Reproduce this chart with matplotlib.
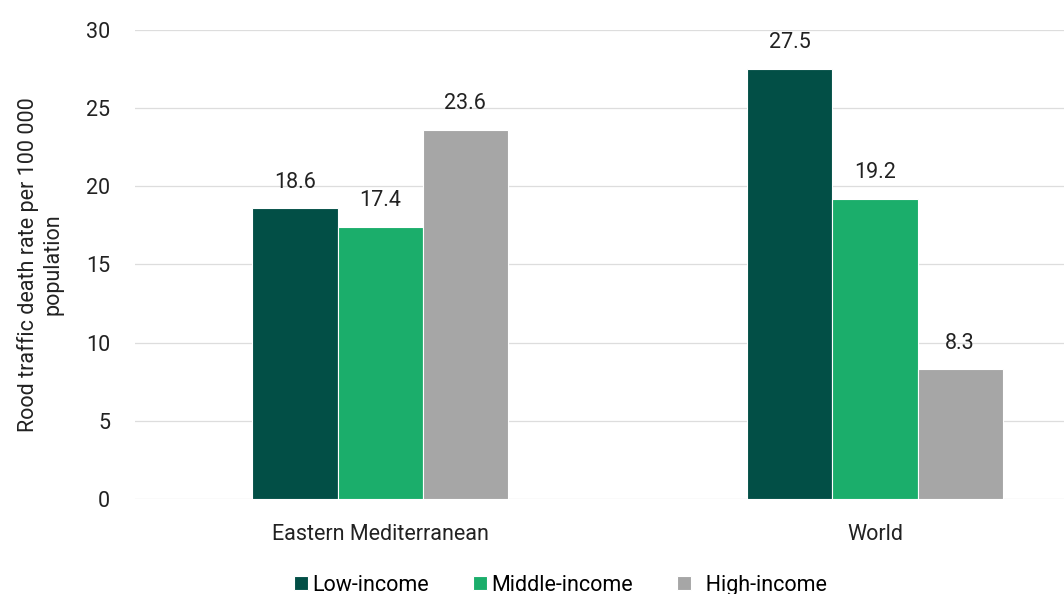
import matplotlib.pyplot as plt
import numpy as np

plt.rcParams['font.family'] = ['Roboto', 'DejaVu Sans']

regions = ["Eastern Mediterranean", "World"]
series = ["Low-income", "Middle-income", "High-income"]
low_income = [18.6, 27.5]
middle_income = [17.4, 19.2]
high_income = [23.6, 8.3]
colors = ["#024f46", "#1bae6b", "#a6a6a6"]

fs = 15.5
fig = plt.figure(figsize=(10.64, 5.94), dpi=100)
ax = fig.add_axes([0.127, 0.16, 0.873, 0.7896])

x = np.arange(len(regions))
w = 0.172
for i, (vals, name) in enumerate(zip([low_income, middle_income, high_income], series)):
    pos = x + (i - 1) * w
    label = name if i < 2 else "  " + name
    bars = ax.bar(pos, vals, w, color=colors[i], label=label,
                  edgecolor="white", linewidth=0.8, zorder=3)
    for b, v in zip(bars, vals):
        ax.text(b.get_x() + b.get_width() / 2, v + 1.0, f"{v:.1f}",
                ha="center", va="bottom", fontsize=fs, color="#222222")

ax.set_xlim(-0.495, 1.382)
ax.set_ylim(0, 30)
ax.set_yticks(range(0, 31, 5))
ax.set_xticks(x)
ax.set_xticklabels(regions)
ax.tick_params(axis="both", length=0, labelsize=fs, colors="#222222")
ax.tick_params(axis="x", pad=18)
ax.tick_params(axis="y", pad=18)
ax.grid(axis="y", color="#dddddd", linewidth=0.9, zorder=0)
for s in ax.spines.values():
    s.set_visible(False)

ax.set_ylabel("Rood traffic death rate per 100 000\npopulation", fontsize=fs,
              color="#222222", labelpad=16)

ax.legend(loc="center", bbox_to_anchor=(0.458, -0.184), ncol=3, frameon=False,
          fontsize=fs, handlelength=0.65, handleheight=0.65, handletextpad=0.2,
          columnspacing=2.05)

fig.savefig("out.png", dpi=100)
